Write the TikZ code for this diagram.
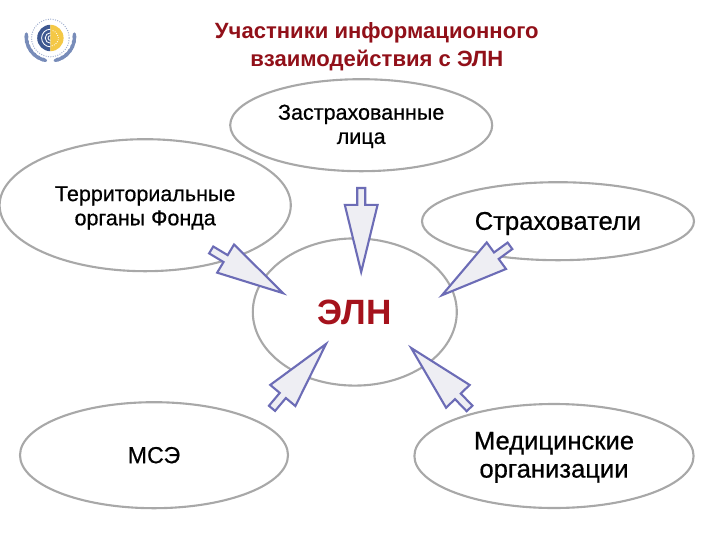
\documentclass[tikz,border=0pt]{standalone}
\usepackage{fontspec}
\setmainfont{Liberation Sans}
\newfontfamily\heavyfont[FakeBold=0.6]{Liberation Sans}
\usetikzlibrary{shapes.geometric}
\definecolor{ringgray}{RGB}{168,168,168}
\definecolor{arrowblue}{RGB}{108,108,182}
\definecolor{arrowfill}{RGB}{238,238,243}
\definecolor{elnred}{RGB}{165,18,28}
\definecolor{logoblue}{RGB}{62,88,145}
\definecolor{logoyellow}{RGB}{244,200,70}
\definecolor{wreathblue}{RGB}{120,140,185}

\begin{document}
\begin{tikzpicture}[
  party/.style={ellipse, draw=ringgray, line width=1.5pt, fill=white, inner sep=0pt, align=center, text=black},
  txtsmall/.style={font=\fontsize{15.3}{17.2}\heavyfont},
  txtlarge/.style={font=\fontsize{18.2}{20}\heavyfont},
  titletxt/.style={font=\fontsize{15.7}{19.4}\selectfont\bfseries, align=center, text=elnred!88!black},
  blockarrow/.pic={
    \draw[draw=arrowblue, fill=arrowfill, line width=1.5pt, line join=miter]
      (0,0) -- (-1.68,0.41) -- (-1.68,0.1) -- (-2.1,0.1) -- (-2.1,-0.1)
      -- (-1.68,-0.1) -- (-1.68,-0.41) -- cycle;
  },
  leaf/.style={ellipse, fill=wreathblue, minimum width=0.22cm, minimum height=0.1cm, inner sep=0pt}
]
\useasboundingbox (0,0) rectangle (18,-13.5);

% logo
\fill[logoblue] (1.26,-0.62) arc (90:270:0.33);
\fill[logoyellow] (1.26,-1.28) arc (-90:90:0.33);
\draw[white, line width=0.6pt] (1.26,-0.73) arc (90:270:0.22);
\draw[white, line width=0.6pt] (1.26,-0.82) arc (90:270:0.13);
\draw[white, line width=0.6pt] (1.26,-0.89) arc (90:270:0.06);
\draw[white, densely dotted, line width=0.6pt] (1.26,-0.95) ++(-80:0.2) arc (-80:80:0.2);
\draw[wreathblue!70, densely dotted, line width=0.7pt] (1.26,-0.95) circle (0.47);
\foreach \ang in {180,192,...,252}
  \node[leaf, rotate=\ang+90] at ({1.26+0.6*cos(\ang)},{-0.92+0.6*sin(\ang)}) {};
\foreach \ang in {0,-12,...,-72}
  \node[leaf, rotate=\ang+90] at ({1.26+0.6*cos(\ang)},{-0.92+0.6*sin(\ang)}) {};

\node[titletxt] (title) at (9.42,-1.17) {Участники информационного\\взаимодействия с ЭЛН};

\node[party, txtsmall, text height=29.6pt, minimum width=6.55cm, minimum height=2.3cm] (insured) at (9.03,-3.13) {Застрахованные\\лица};
\node[party, txtsmall, text height=31.7pt, minimum width=7.28cm, minimum height=3.3cm] (fund) at (3.63,-5.13) {Территориальные\\органы Фонда};
\node[party, txtlarge, text height=16pt, minimum width=6.8cm, minimum height=1.95cm] (employers) at (13.95,-5.53) {Страхователи};
\node[party, minimum width=5.1cm, minimum height=3.68cm, font=\fontsize{25}{30}\selectfont\bfseries, text=elnred] (eln) at (8.87,-7.8) {ЭЛН};
\node[party, font=\fontsize{16.5}{20}\heavyfont, minimum width=6.7cm, minimum height=2.65cm] (mse) at (3.85,-11.38) {МСЭ};
\node[party, txtlarge, text height=34.5pt, minimum width=6.98cm, minimum height=2.6cm] (clinics) at (13.85,-11.4) {Медицинские\\организации};

\pic[rotate=-90] at (9.03,-6.8) {blockarrow};
\pic[rotate=-31] at (7.08,-7.33) {blockarrow};
\pic[rotate=216] at (11.05,-7.38) {blockarrow};
\pic[rotate=50] at (8.15,-8.6) {blockarrow};
\pic[rotate=134] at (10.28,-8.7) {blockarrow};
\end{tikzpicture}
\end{document}
